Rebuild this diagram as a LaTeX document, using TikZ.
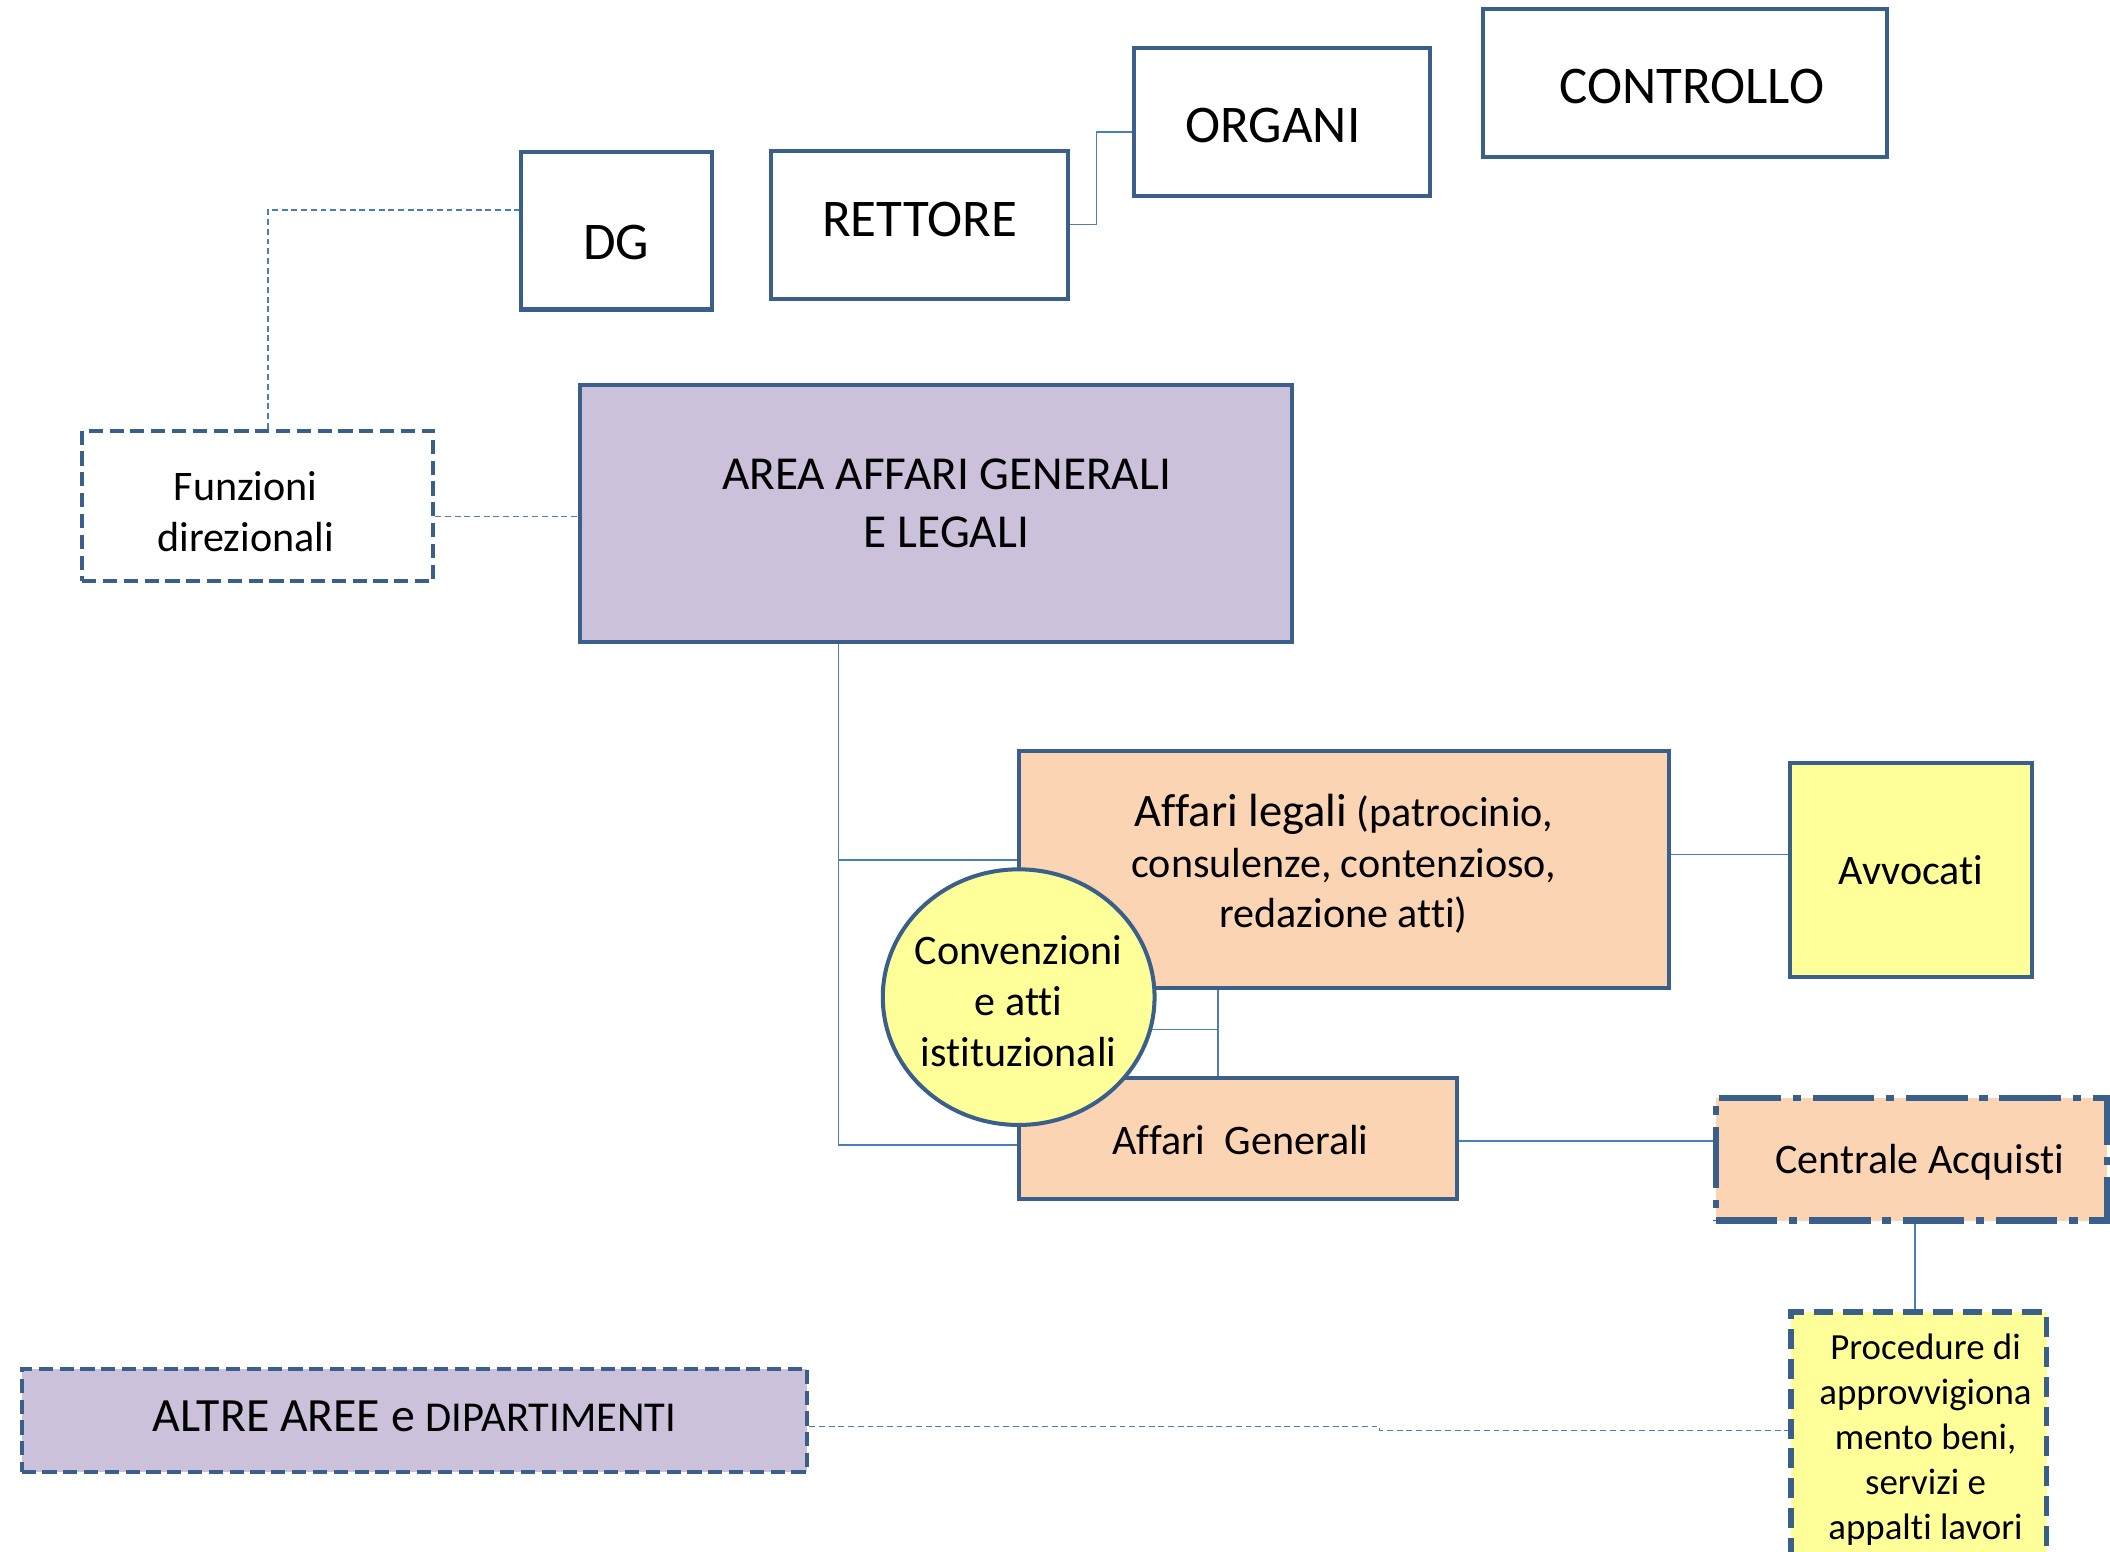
\documentclass[tikz,border=0pt]{standalone}
\usepackage{fontspec}
\setmainfont{Carlito}[Ligatures=CommonOff]
\usetikzlibrary{shapes.geometric,backgrounds}
\definecolor{boxline}{HTML}{3A5F8B}
\definecolor{linkblue}{HTML}{4A7EBB}
\definecolor{lavender}{HTML}{CCC1DA}
\definecolor{peach}{HTML}{FBD4B4}
\definecolor{paleyellow}{HTML}{FFFF99}
\newcommand{\shifttext}[3]{\hspace*{#1}\raisebox{#2}[\height][\depth]{#3}}
\tikzset{
  unit/.style={draw=boxline,line width=1.7pt,align=center,inner sep=0pt},
  bigtxt/.style={font=\fontsize{22.4}{26}\selectfont},
  midtxt/.style={font=\fontsize{17.8}{21.5}\selectfont},
  dashbox/.style={unit,dash pattern=on 6pt off 2.8pt},
  link/.style={draw=linkblue,line width=0.6pt},
  dlink/.style={link,dash pattern=on 2.5pt off 1.6pt}
}
\begin{document}
\begin{tikzpicture}[x=0.02cm,y=-0.02cm]
    \useasboundingbox (0,0) rectangle (1568,1153);
    % vertici
    \node[unit,bigtxt,minimum width=2.84cm,minimum height=2.34cm] (DG) at (458,171.5) {\shifttext{0pt}{-5.1pt}{DG}};
    \node[unit,bigtxt,minimum width=4.42cm,minimum height=2.2cm] (RETTORE) at (683.5,167) {\shifttext{0pt}{2.3pt}{RETTORE}};
    \node[unit,bigtxt,minimum width=4.4cm,minimum height=2.2cm] (ORGANI) at (953,91) {\shifttext{0pt}{-1.1pt}{ORGANI}\hspace*{8pt}};
    \node[unit,bigtxt,minimum width=6cm,minimum height=2.2cm] (CONTROLLO) at (1252,62) {\shifttext{6pt}{-1.1pt}{CONTROLLO}};
    \node[dashbox,midtxt,minimum width=5.22cm,minimum height=2.24cm] (Funzioni) at (191.5,376) {\shifttext{0pt}{-4pt}{\begin{tabular}{@{}c@{}}Funzioni\\direzionali\end{tabular}}\hspace*{10.2pt}};
    \node[unit,fill=lavender,font=\fontsize{20}{24.4}\selectfont,minimum width=10.58cm,minimum height=3.82cm] (AREA) at (695.5,381.5) {\shifttext{9pt}{2.8pt}{\begin{tabular}{@{}c@{}}AREA AFFARI GENERALI\\E LEGALI\end{tabular}}};
    % aree funzionali
    \node[unit,fill=peach,midtxt,minimum width=9.66cm,minimum height=3.52cm] (AffLeg) at (998.5,646) {\shifttext{0pt}{1pt}{\begin{tabular}{@{}c@{}}{\fontsize{19.7}{22}\selectfont Affari legali} (patrocinio,\\consulenze, contenzioso,\\redazione atti)\end{tabular}}};
    \node[unit,fill=paleyellow,midtxt,minimum width=3.6cm,minimum height=3.18cm] (Avv) at (1420,646.5) {Avvocati};
    \node[unit,fill=peach,midtxt,minimum width=6.52cm,minimum height=1.8cm] (AffGen) at (920,846) {\shifttext{2pt}{-0.5pt}{Affari\ \ Generali}};
    \node[unit,fill=paleyellow,midtxt,ellipse,minimum width=4.04cm,minimum height=3.8cm] (Conv) at (757,741) {\makebox[0pt]{\raisebox{-7.8pt}[0pt][0pt]{\begin{tabular}{@{}c@{}}Convenzioni\\e atti\\istituzionali\end{tabular}}}};
    \node[unit,fill=peach,midtxt,line width=2.6pt,dash pattern=on 26pt off 5pt on 3.5pt off 5pt,minimum width=5.82cm,minimum height=1.82cm] (Centr) at (1420.5,861.5) {\shifttext{6.8pt}{-1.1pt}{Centrale Acquisti}};
    \node[unit,fill=paleyellow,font=\fontsize{15.6}{19}\selectfont,line width=2.3pt,dash pattern=on 8.4pt off 4.2pt,minimum width=3.8cm,minimum height=4.1cm] (Proc) at (1426,1077.5) {\shifttext{5.6pt}{4pt}{\begin{tabular}{@{}c@{}}Procedure di\\approvvigiona\\mento beni,\\servizi e\\appalti lavori\end{tabular}}};
    \node[dashbox,fill=lavender,font=\fontsize{20.2}{24}\selectfont,minimum width=11.68cm,minimum height=1.54cm] (Altre) at (308,1055.5) {\shifttext{0pt}{1.7pt}{ALTRE AREE e {\fontsize{18}{20}\selectfont DIPARTIMENTI}}};
    % collegamenti
    \begin{scope}[on background layer]
        \coordinate (ro) at (815,98);
        \coordinate (fd) at (199,156);
        \coordinate (fa) at (0,384);
        \coordinate (t1) at (623,639);
        \coordinate (t2) at (623,851);
        \coordinate (c1) at (905,765);
        \coordinate (la) at (0,635);
        \coordinate (gc) at (0,848);
        \coordinate (cp) at (1423,0);
        \coordinate (ap1) at (1025,1060);
        \coordinate (ap2) at (1025,1063);
        \draw[link] (RETTORE.east) -| (ro) -- (ro -| ORGANI.west);
        \draw[dlink] (fd |- Funzioni.north) -- (fd) -- (fd -| DG.west);
        \draw[dlink] (fa -| Funzioni.east) -- (fa -| AREA.west);
        \draw[link] (t1 |- AREA.south) -- (t2) -- (t2 -| AffGen.west);
        \draw[link] (t1) -- (t1 -| AffLeg.west);
        \draw[link] (c1 |- AffLeg.south) -- (c1 |- AffGen.north);
        \draw[link] (c1) -- (c1 -| Conv.center);
        \draw[link] (la -| AffLeg.east) -- (la -| Avv.west);
        \draw[link] (gc -| AffGen.east) -- (gc -| Centr.west);
        \draw[link] (cp |- Centr.south) -- (cp |- Proc.north);
        \draw[dlink] (ap1 -| Altre.east) -- (ap1) -- (ap2) -- (ap2 -| Proc.west);
    \end{scope}
\end{tikzpicture}
\end{document}
